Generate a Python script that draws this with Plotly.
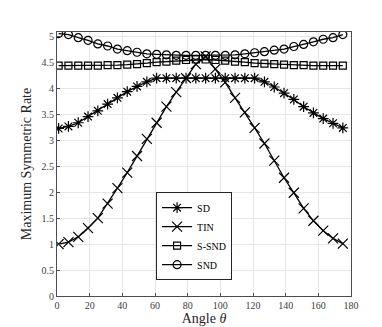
import plotly.graph_objects as go

angle = list(range(1, 180, 6))

sd = [3.23, 3.27, 3.34, 3.46, 3.57, 3.70, 3.82, 3.94, 4.04, 4.13,
      4.20, 4.20, 4.20, 4.20, 4.20, 4.20, 4.20, 4.20, 4.20, 4.20,
      4.20, 4.13, 4.03, 3.91, 3.79, 3.65, 3.53, 3.42, 3.33, 3.24]
tin = [1.00, 1.04, 1.14, 1.31, 1.50, 1.78, 2.08, 2.38, 2.70, 3.03,
       3.34, 3.65, 3.93, 4.20, 4.47, 4.62, 4.38, 4.12, 3.82, 3.54,
       3.24, 2.94, 2.61, 2.28, 1.99, 1.69, 1.45, 1.26, 1.11, 1.01]
s_snd = [4.44, 4.44, 4.44, 4.44, 4.44, 4.45, 4.45, 4.46, 4.47, 4.49,
         4.51, 4.52, 4.54, 4.55, 4.56, 4.56, 4.55, 4.54, 4.52, 4.51,
         4.49, 4.48, 4.47, 4.46, 4.45, 4.45, 4.44, 4.44, 4.44, 4.44]
snd = [5.06, 5.04, 4.98, 4.93, 4.86, 4.82, 4.76, 4.73, 4.70, 4.67,
       4.66, 4.65, 4.64, 4.64, 4.64, 4.64, 4.64, 4.64, 4.65, 4.67,
       4.69, 4.71, 4.74, 4.76, 4.81, 4.85, 4.90, 4.95, 4.98, 5.04]

series = [
    ('SD', sd, 'asterisk-open', 9),
    ('TIN', tin, 'x-thin-open', 10),
    ('S-SND', s_snd, 'square-open', 7),
    ('SND', snd, 'circle-open', 8),
]

font = 'Liberation Serif'

fig = go.Figure()
for name, vals, sym, size in series:
    fig.add_trace(go.Scatter(
        x=angle, y=vals, name=name, mode='lines+markers',
        line=dict(color='black', width=1.3),
        marker=dict(symbol=sym, size=size, color='black',
                    line=dict(color='black', width=1.2)),
    ))

axis_common = dict(
    showgrid=True, gridcolor='#e6e6e6', gridwidth=1,
    showline=True, linecolor='#4d4d4d', linewidth=1, mirror=True,
    ticks='inside', ticklen=3, tickcolor='#4d4d4d',
    tickfont=dict(family=font, size=10, color='#404040'),
    zeroline=False,
)

fig.update_layout(
    width=382, height=327,
    margin=dict(l=49, r=39, t=24, b=36),
    paper_bgcolor='white', plot_bgcolor='white',
    font=dict(family=font, color='#262626'),
    showlegend=True,
    legend=dict(
        x=0.337, y=0.06, xanchor='left', yanchor='bottom',
        bgcolor='white', bordercolor='#262626', borderwidth=1,
        font=dict(family=font, size=10, color='black'),
        itemwidth=30, tracegroupgap=0,
    ),
    xaxis=dict(range=[0, 180], tickvals=list(range(0, 181, 20)),
               title=dict(text='Angle <i>θ</i>', font=dict(family=font, size=14),
                          standoff=2),
               **axis_common),
    yaxis=dict(range=[0, 5.09], tickvals=[i * 0.5 for i in range(11)],
               title=dict(text='Maximum Symmetric Rate', font=dict(family=font, size=14),
                          standoff=6),
               **axis_common),
)

fig.write_html('out.html')
